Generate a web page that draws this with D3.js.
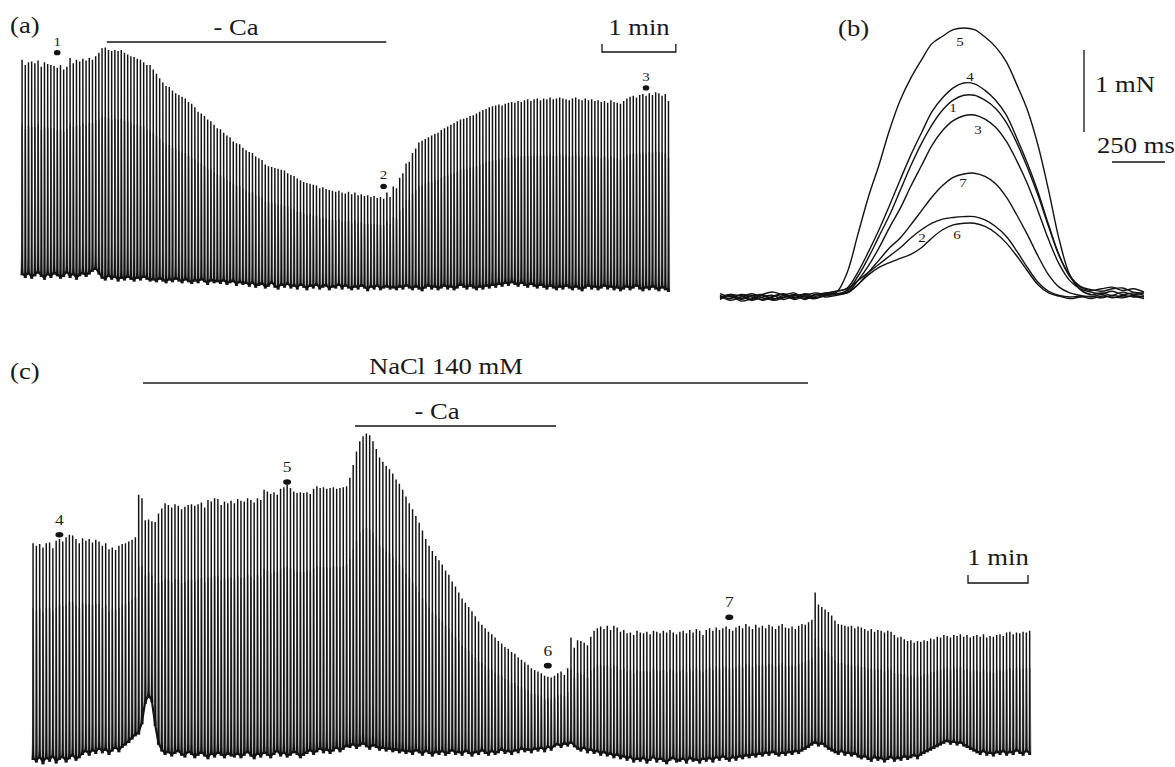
<!DOCTYPE html>
<html>
<head>
<meta charset="utf-8">
<title>Twitch force, Ca-free and NaCl 140 mM</title>
<script src="https://d3js.org/d3.v7.min.js"></script>
<style>
  html, body { margin: 0; padding: 0; background: #fff; }
  svg { display: block; }
  text { font-family: 'Liberation Serif', 'Times New Roman', serif; fill: #1a1a1a; }
</style>
</head>
<body>
<svg id="chart" width="1175" height="767"></svg>
<script>
// ---- panel (a): peak and resting force of each twitch, mN ----
var peaksA = [
  2.56, 2.50, 2.53, 2.54, 2.52, 2.55, 2.48, 2.53, 2.51, 2.50,
  2.49, 2.47, 2.50, 2.45, 2.48, 2.58, 2.52, 2.56, 2.54, 2.57,
  2.55, 2.58, 2.56, 2.60, 2.64, 2.69, 2.70, 2.67, 2.66, 2.67,
  2.66, 2.67, 2.64, 2.62, 2.60, 2.59, 2.57, 2.56, 2.53, 2.50,
  2.50, 2.45, 2.40, 2.35, 2.30, 2.26, 2.25, 2.21, 2.18, 2.16,
  2.14, 2.12, 2.08, 2.06, 2.02, 1.97, 1.95, 1.92, 1.88, 1.86,
  1.82, 1.78, 1.77, 1.73, 1.70, 1.68, 1.63, 1.61, 1.60, 1.56,
  1.53, 1.51, 1.50, 1.46, 1.44, 1.42, 1.37, 1.35, 1.34, 1.33,
  1.32, 1.31, 1.30, 1.27, 1.25, 1.24, 1.21, 1.19, 1.17, 1.16,
  1.15, 1.14, 1.13, 1.10, 1.11, 1.09, 1.08, 1.07, 1.06, 1.07,
  1.05, 1.04, 1.06, 1.03, 1.05, 1.02, 1.03, 1.01, 1.02, 1.00,
  1.01, 0.99, 1.00, 0.98, 1.05, 1.00, 1.12, 1.10, 1.22, 1.27,
  1.38, 1.40, 1.50, 1.55, 1.62, 1.64, 1.66, 1.68, 1.70, 1.72,
  1.73, 1.76, 1.78, 1.80, 1.82, 1.84, 1.86, 1.88, 1.89, 1.90,
  1.92, 1.93, 1.95, 1.97, 1.99, 2.00, 2.02, 2.03, 2.04, 2.05,
  2.04, 2.06, 2.07, 2.08, 2.07, 2.09, 2.08, 2.10, 2.11, 2.09,
  2.11, 2.12, 2.10, 2.12, 2.11, 2.13, 2.11, 2.12, 2.13, 2.12,
  2.11, 2.10, 2.12, 2.13, 2.11, 2.10, 2.12, 2.10, 2.11, 2.09,
  2.10, 2.08, 2.09, 2.07, 2.10, 2.08, 2.07, 2.06, 2.09, 2.12,
  2.14, 2.15, 2.13, 2.16, 2.17, 2.15, 2.18, 2.16, 2.19, 2.18,
  2.15, 2.17, 2.09
]
var troughsA = [
  0.11, 0.08, 0.12, 0.07, 0.10, 0.13, 0.09, 0.06, 0.11, 0.08,
  0.12, 0.10, 0.07, 0.09, 0.13, 0.08, 0.11, 0.06, 0.10, 0.12,
  0.09, 0.12, 0.15, 0.17, 0.12,
  0.07, 0.05, 0.09, 0.06, 0.08, 0.04, 0.07, 0.05, 0.08, 0.06,
  0.04, 0.07, 0.05, 0.08, 0.06, 0.04,
  0.05, 0.03, 0.06, 0.04, 0.02, 0.05, 0.03, 0.06, 0.04, 0.02,
  0.05, 0.03, 0.01, 0.04, 0.02, 0.05, 0.03, 0.00, 0.04, 0.02,
  0.03, 0.01, 0.04, 0.00, 0.02, 0.03, -0.01, 0.02, 0.00, 0.01,
  -0.02, 0.01, -0.03, -0.01, 0.00, -0.04, -0.02, 0.01, -0.03, -0.05,
  -0.01, -0.03, 0.00, -0.04, -0.02, -0.05, -0.01, -0.03, -0.06, -0.02,
  -0.04, -0.01, -0.05, -0.03, -0.02, -0.06, -0.03, -0.04, -0.01, -0.05,
  -0.02, -0.04, -0.06, -0.03, -0.05, -0.02, -0.04, -0.07, -0.03, -0.05,
  -0.02, -0.06, -0.04, -0.03, -0.05,
  -0.04, -0.06, -0.03, -0.05, -0.02, -0.04, -0.06, -0.03, -0.05, -0.07,
  -0.04, -0.02, -0.05, -0.03, -0.06, -0.04, -0.02, -0.05, -0.03, -0.06,
  -0.04, -0.01, -0.03, -0.05, -0.02, -0.04, -0.06, -0.03, -0.05, -0.02,
  -0.04, -0.01, -0.03, 0.00, -0.02, 0.01, -0.01, 0.02, 0.00, -0.02,
  0.01, -0.01, -0.03, 0.00, -0.02, -0.04, -0.01, -0.03, -0.05, -0.02,
  -0.04, -0.06, -0.03, -0.05, -0.02, -0.04, -0.06, -0.03, -0.05, -0.07,
  -0.04, -0.02, -0.05, -0.03, -0.06, -0.04, -0.02, -0.05, -0.03, -0.06,
  -0.04, -0.07, -0.05, -0.03, -0.06, -0.04, -0.02, -0.05, -0.07, -0.04,
  -0.06, -0.03, -0.05, -0.07, -0.04, -0.06, -0.08
]
var periodA = 2.6 // s between twitches
var solutionsA = [{ name: '- Ca', from: 69, to: 296 }] // s
var marksA = [
  { label: '1', beat: 11, level: 2.64 },
  { label: '2', beat: 113, level: 1.12 },
  { label: '3', beat: 195, level: 2.24 }
]

// ---- panel (c) ----
var peaksC = [
  2.55, 2.52, 2.54, 2.50, 2.55, 2.56, 2.49, 2.58, 2.60, 2.57,
  2.62, 2.65, 2.64, 2.60, 2.55, 2.61, 2.58, 2.60, 2.56, 2.59,
  2.57, 2.52, 2.55, 2.48, 2.50, 2.47, 2.52, 2.54, 2.55, 2.57,
  2.59, 2.62, 3.12, 3.08, 2.82, 2.83, 2.81, 2.80, 2.90, 2.96,
  3.02, 3.00, 2.97, 3.01, 2.99, 2.95, 2.98, 3.00, 3.01, 2.99,
  3.01, 3.03, 2.97, 3.06, 3.04, 3.08, 3.07, 3.00, 3.04, 3.02,
  3.05, 3.02, 3.07, 3.05, 3.04, 3.08, 3.06, 3.03, 3.08, 3.06,
  3.18, 3.16, 3.13, 3.15, 3.12, 3.19, 3.21, 3.24, 3.20, 3.16,
  3.14, 3.15, 3.14, 3.15, 3.13, 3.19, 3.22, 3.20, 3.21, 3.19,
  3.20, 3.21, 3.19, 3.20, 3.21, 3.22, 3.32, 3.47, 3.63, 3.75,
  3.81, 3.84, 3.82, 3.75, 3.66, 3.56, 3.51, 3.46, 3.42, 3.37,
  3.30, 3.25, 3.18, 3.10, 3.02, 2.95, 2.87, 2.79, 2.70, 2.60,
  2.52, 2.46, 2.40, 2.35, 2.30, 2.23, 2.18, 2.10, 2.04, 1.97,
  1.90, 1.85, 1.80, 1.75, 1.69, 1.63, 1.59, 1.55, 1.51, 1.48,
  1.44, 1.40, 1.37, 1.33, 1.31, 1.27, 1.25, 1.21, 1.18, 1.15,
  1.12, 1.08, 1.06, 1.04, 1.02, 0.99, 0.98, 0.97, 0.99, 1.02,
  1.04, 1.00, 1.08, 1.44, 1.32, 1.41, 1.40, 1.38, 1.35, 1.45,
  1.52, 1.55, 1.57, 1.54, 1.58, 1.53, 1.58, 1.56, 1.51, 1.53,
  1.49, 1.50, 1.47, 1.52, 1.50, 1.49, 1.51, 1.48, 1.52, 1.51,
  1.49, 1.52, 1.50, 1.53, 1.50, 1.48, 1.51, 1.52, 1.49, 1.53,
  1.50, 1.54, 1.52, 1.47, 1.53, 1.55, 1.52, 1.56, 1.53, 1.55,
  1.57, 1.54, 1.52, 1.56, 1.58, 1.55, 1.60, 1.57, 1.54, 1.59,
  1.56, 1.58, 1.55, 1.59, 1.57, 1.54, 1.58, 1.60, 1.56, 1.55,
  1.57, 1.54, 1.58, 1.60, 1.59, 1.62, 1.65, 1.97, 1.83, 1.80,
  1.77, 1.74, 1.70, 1.64, 1.60, 1.59, 1.58, 1.57, 1.58, 1.55,
  1.57, 1.56, 1.54, 1.52, 1.54, 1.51, 1.53, 1.52, 1.50, 1.52,
  1.51, 1.47, 1.44, 1.45, 1.42, 1.40, 1.41, 1.38, 1.40, 1.39,
  1.41, 1.40, 1.43, 1.42, 1.45, 1.44, 1.47, 1.46, 1.44, 1.47,
  1.46, 1.48, 1.45, 1.47, 1.44, 1.46, 1.47, 1.45, 1.48, 1.44,
  1.46, 1.45, 1.47, 1.48, 1.46, 1.50, 1.51, 1.48, 1.50, 1.49,
  1.51, 1.50, 1.52
]
var troughsC = [
  0.00, -0.03, 0.02, -0.05, 0.01, -0.02, 0.03, -0.04, 0.00, 0.02,
  -0.03, 0.01, 0.04, -0.01, 0.02,
  0.06, 0.09, 0.05, 0.10, 0.07, 0.12, 0.08, 0.11, 0.06, 0.10,
  0.13, 0.09, 0.14, 0.17, 0.20,
  0.24, 0.28, 0.30, 0.42, 0.66, 0.74, 0.68, 0.40, 0.18,
  0.10, 0.06, 0.08, 0.04, 0.07, 0.09, 0.05, 0.03, 0.08, 0.06,
  0.02, 0.05, 0.07, 0.04, 0.01, 0.06, 0.03, 0.07, 0.05, 0.02,
  0.06, 0.04,
  0.03, 0.06, 0.02, 0.05, 0.08, 0.04, 0.01, 0.06, 0.03, 0.07,
  0.05, 0.02, 0.06, 0.09, 0.04, 0.07, 0.03, 0.05, 0.08, 0.06,
  0.02, 0.05, 0.07, 0.10, 0.06, 0.09, 0.12, 0.08, 0.11, 0.07,
  0.10, 0.13, 0.09, 0.12, 0.15,
  0.14, 0.17, 0.13, 0.16, 0.18, 0.15, 0.12, 0.16, 0.14, 0.11,
  0.13, 0.10, 0.12, 0.09, 0.11, 0.08, 0.10,
  0.07, 0.09, 0.06, 0.10, 0.08, 0.05, 0.09, 0.07, 0.04, 0.08,
  0.06, 0.09, 0.05, 0.07, 0.10, 0.06, 0.08, 0.05, 0.09, 0.07,
  0.04, 0.08, 0.06, 0.10, 0.07, 0.05, 0.09, 0.06, 0.08, 0.11,
  0.07, 0.09, 0.06, 0.10, 0.08, 0.12, 0.09, 0.11,
  0.08, 0.12, 0.10, 0.13, 0.09, 0.14, 0.11, 0.15, 0.17, 0.14,
  0.18, 0.16, 0.19, 0.15, 0.12, 0.10, 0.13, 0.08, 0.11, 0.07,
  0.09, 0.05, 0.08, 0.04, 0.06, 0.02, 0.05, 0.01, 0.03, -0.01,
  0.02, -0.03, 0.00, -0.02, 0.01, -0.04, -0.01, 0.02, -0.03, 0.00,
  -0.02, -0.05, -0.01, 0.01, -0.03, -0.02, 0.00, -0.04, 0.01, -0.02,
  -0.01, -0.04, 0.00, -0.02, 0.01, -0.03, 0.02, -0.01, 0.03, 0.00,
  -0.02, 0.02, -0.01, 0.03, 0.01, 0.04, 0.02, 0.05, 0.03, 0.06,
  0.04, 0.07, 0.05, 0.08, 0.06, 0.04, 0.07, 0.05, 0.08, 0.06,
  0.09, 0.07, 0.10, 0.12, 0.14, 0.17, 0.19, 0.16, 0.18, 0.15,
  0.12, 0.10, 0.08, 0.06, 0.09, 0.05, 0.07, 0.04, 0.06, 0.03,
  0.01, 0.03, 0.00, -0.02, 0.02, -0.01, 0.01, -0.03, 0.00, 0.02,
  -0.02, 0.01, -0.01, 0.03, 0.00, 0.02, 0.04, 0.01, 0.05, 0.07,
  0.09, 0.11, 0.13, 0.15, 0.17, 0.19, 0.21, 0.18, 0.20, 0.17,
  0.19, 0.16, 0.14, 0.12, 0.10, 0.08, 0.06, 0.09, 0.05, 0.07,
  0.04, 0.08, 0.06, 0.09, 0.05, 0.08, 0.06, 0.10, 0.07, 0.05,
  0.09, 0.06
]
var periodC = 3.3
var solutionsC = [
  { name: 'NaCl 140 mM', from: 110, to: 775 },
  { name: '- Ca', from: 322, to: 523 }
]
var marksC = [
  { label: '4', beat: 8, level: 2.65 },
  { label: '5', beat: 77, level: 3.27 },
  { label: '6', beat: 156, level: 1.11 },
  { label: '7', beat: 211, level: 1.68 }
]

// ---- panel (b): single twitches, force (mN) every 50 ms ----
var timesB = [0, 50, 100, 150, 200, 250, 300, 350, 400, 450, 500, 550, 600, 650, 700, 750, 800, 850, 900, 950,
  1000, 1050, 1100, 1150, 1200, 1250, 1300, 1350, 1400, 1450, 1500, 1550, 1600, 1650, 1700, 1750, 1800, 1850, 1900, 1950, 2000]
var twitch5 = [0.02, -0.02, 0.03, 0.00, -0.03, 0.01, 0.04, -0.01, 0.02, 0.05, 0.03, 0.06,
  0.30, 0.76, 1.22, 1.61, 2.04, 2.40, 2.67, 2.89, 3.09, 3.18, 3.26, 3.28, 3.26, 3.17, 3.05, 2.87, 2.59, 2.28,
  1.85, 1.30, 0.70, 0.27, 0.09, 0.03, 0.05, 0.02, 0.06, 0.03, 0.05]
var twitch4 = [-0.03, 0.01, -0.05, -0.02, 0.02, -0.04, -0.01, 0.03, 0.00, -0.02, 0.04, 0.07,
  0.11, 0.30, 0.55, 0.82, 1.12, 1.43, 1.73, 2.00, 2.26, 2.43, 2.55, 2.61, 2.60, 2.52, 2.40, 2.22, 1.94, 1.63,
  1.28, 0.88, 0.51, 0.26, 0.13, 0.09, 0.07, 0.10, 0.11, 0.06, 0.05]
var twitch1 = [0.04, 0.00, 0.02, -0.03, 0.03, 0.06, 0.02, -0.02, 0.04, 0.01, 0.05, 0.04,
  0.08, 0.25, 0.48, 0.74, 1.00, 1.30, 1.60, 1.87, 2.10, 2.28, 2.40, 2.46, 2.46, 2.40, 2.30, 2.13, 1.88, 1.58,
  1.24, 0.86, 0.50, 0.25, 0.12, 0.08, 0.10, 0.12, 0.08, 0.10, 0.06]
var twitch3 = [-0.01, 0.03, -0.02, 0.02, -0.04, 0.00, 0.03, -0.03, 0.01, -0.01, 0.02, 0.03,
  0.06, 0.20, 0.38, 0.60, 0.85, 1.08, 1.35, 1.60, 1.85, 2.03, 2.15, 2.21, 2.22, 2.17, 2.07, 1.90, 1.66, 1.38,
  1.05, 0.70, 0.40, 0.20, 0.10, 0.06, 0.04, 0.07, 0.03, 0.05, 0.02]
var twitch7 = [0.01, -0.04, 0.00, 0.04, -0.01, -0.03, 0.02, 0.05, -0.02, 0.03, 0.00, 0.02,
  0.05, 0.15, 0.30, 0.45, 0.60, 0.72, 0.88, 1.05, 1.22, 1.36, 1.46, 1.50, 1.51, 1.47, 1.38, 1.22, 1.00, 0.76,
  0.50, 0.27, 0.12, 0.05, 0.02, 0.00, 0.03, -0.01, 0.02, 0.00, 0.01]
var twitch2 = [0.00, 0.02, -0.03, 0.01, 0.03, -0.02, 0.00, 0.02, -0.03, 0.03, 0.05, 0.07,
  0.10, 0.20, 0.30, 0.40, 0.50, 0.60, 0.72, 0.82, 0.90, 0.95, 0.97, 0.98, 0.98, 0.94, 0.86, 0.74, 0.56, 0.36,
  0.18, 0.07, 0.02, 0.00, 0.01, -0.02, 0.01, 0.00, -0.01, 0.02, 0.00]
var twitch6 = [-0.02, 0.03, 0.01, -0.04, 0.00, 0.02, -0.03, 0.01, 0.03, -0.01, 0.02, 0.04,
  0.05, 0.15, 0.27, 0.36, 0.42, 0.47, 0.52, 0.60, 0.72, 0.82, 0.88, 0.90, 0.90, 0.86, 0.78, 0.66, 0.50, 0.32,
  0.15, 0.05, 0.01, -0.02, 0.00, 0.01, -0.01, 0.02, 0.00, 0.01, -0.02]
var twitchesB = [
  { label: '5', force: twitch5, at: [1132, 3.11] },
  { label: '4', force: twitch4, at: [1179, 2.68] },
  { label: '1', force: twitch1, at: [1099, 2.30] },
  { label: '3', force: twitch3, at: [1217, 2.04] },
  { label: '7', force: twitch7, at: [1146, 1.39] },
  { label: '2', force: twitch2, at: [953, 0.72] },
  { label: '6', force: twitch6, at: [1118, 0.76] }
]

var ink = '#131313'
var svg = d3.select('#chart')
svg.append('rect').attr('width', 1175).attr('height', 767).attr('fill', '#fff')

// text in the figure is set a little wider than the font
function label (g, str, x, y, size, anchor) {
  return g.append('text')
    .attr('transform', 'translate(' + x + ',' + y + ') scale(1.16,1)')
    .attr('font-size', size)
    .attr('text-anchor', anchor || 'start')
    .text(str)
}

// one twitch: a dark spike, and a grey shadow of the slower fall
var spike = [[0, 1.3, 1.5], [0.04, 0.88, 1.05], [0.15, 0.74, 0.9], [1, 0.66, 0.8]]
var shadow = [[0, 1.6, 1.8], [0.08, 1.1, 1.7], [0.4, 0.75, 1.35], [0.7, 0.66, 0.95]]
function twitchPath (profile, x, y0, y1) {
  var p = d3.path()
  var k
  p.moveTo(x - profile[0][1], y0)
  for (k = 1; k < profile.length; k++) p.lineTo(x - profile[k][1], y0 + (y1 - y0) * profile[k][0])
  for (k = profile.length - 1; k >= 0; k--) p.lineTo(x + profile[k][2], y0 + (y1 - y0) * profile[k][0])
  p.closePath()
  return p.toString()
}

function drawTrace (g, peaks, troughs, period, xRange, y) {
  var x = d3.scaleLinear().domain([0, (peaks.length - 1) * period]).range(xRange)
  var rest = function (i) { return troughs[Math.min(i, troughs.length - 1)] }

  g.append('g').selectAll('path')
    .data(peaks)
    .enter()
    .append('path')
    .attr('d', function (d, i) { return twitchPath(shadow, x(i * period), y(rest(i)), y(d)) })
    .attr('fill', '#8a8a8a')

  g.append('path')
    .datum(peaks)
    .attr('fill', 'none')
    .attr('stroke', ink)
    .attr('stroke-width', 2.2)
    .attr('d', d3.line()
      .x(function (d, i) { return x(i * period) })
      .y(function (d, i) { return y(rest(i)) - 2 }))

  g.append('g').selectAll('path')
    .data(peaks)
    .enter()
    .append('path')
    .attr('d', function (d, i) { return twitchPath(spike, x(i * period), y(rest(i)), y(d)) })
    .attr('fill', ink)
  return x
}

function drawMarks (g, marks, x, y, period, rx, ry, size, gap) {
  marks.forEach(function (m) {
    var cx = x(m.beat * period)
    g.append('ellipse').attr('cx', cx).attr('cy', y(m.level)).attr('rx', rx).attr('ry', ry).attr('fill', ink)
    label(g, m.label, cx, y(m.level) - gap, size, 'middle')
  })
}

function bar (g, x1, x2, yy, color, width) {
  g.append('line').attr('x1', x1).attr('x2', x2).attr('y1', yy).attr('y2', yy)
    .attr('stroke', color).attr('stroke-width', width)
}

function minuteBar (g, x, left, yy, textY, size) {
  var w = x(60) - x(0)
  g.append('path')
    .attr('d', 'M' + left + ',' + (yy - 8) + 'V' + yy + 'H' + (left + w) + 'V' + (yy - 8))
    .attr('fill', 'none').attr('stroke', ink).attr('stroke-width', 1.3)
  label(g, '1 min', left + w / 2, textY, size, 'middle')
}

// ---- (a) ----
var gA = svg.append('g')
var yA = d3.scaleLinear().domain([0, 2.7]).range([285, 285 - 88 * 2.7])
var xA = drawTrace(gA, peaksA, troughsA, periodA, [22, 668.4], yA)
drawMarks(gA, marksA, xA, yA, periodA, 3.3, 2.6, 13, 7)
label(gA, '(a)', 10, 33, 23)
solutionsA.forEach(function (s) {
  bar(gA, xA(s.from), xA(s.to), 42, ink, 1.3)
  label(gA, s.name, 236, 35, 23, 'middle')
})
minuteBar(gA, xA, 602, 52, 35, 23)

// ---- (c) ----
var gC = svg.append('g')
var yC = d3.scaleLinear().domain([0, 3.9]).range([760, 760 - 85 * 3.9])
var xC = drawTrace(gC, peaksC, troughsC, periodC, [33, 1029.6], yC)
drawMarks(gC, marksC, xC, yC, periodC, 4, 2.8, 15, 10)
label(gC, '(c)', 10, 379, 23)
bar(gC, xC(solutionsC[0].from), xC(solutionsC[0].to), 383, '#555', 2)
label(gC, solutionsC[0].name, 446, 374, 23, 'middle')
bar(gC, xC(solutionsC[1].from), xC(solutionsC[1].to), 426, ink, 1.4)
label(gC, solutionsC[1].name, 437, 419, 23, 'middle')
minuteBar(gC, xC, 968, 583, 565, 23)

// ---- (b) ----
var gB = svg.append('g')
var xB = d3.scaleLinear().domain([0, 2000]).range([720, 1144])
var yB = d3.scaleLinear().domain([0, 1]).range([297, 215])
var lineB = d3.line()
  .x(function (d, i) { return xB(timesB[i]) })
  .y(function (d) { return yB(d) })
  .curve(d3.curveCatmullRom)

gB.selectAll('path.twitch')
  .data(twitchesB)
  .enter()
  .append('path')
  .attr('class', 'twitch')
  .attr('d', function (d) { return lineB(d.force) })
  .attr('fill', 'none')
  .attr('stroke', ink)
  .attr('stroke-width', 1.4)

twitchesB.forEach(function (d) {
  label(gB, d.label, xB(d.at[0]), yB(d.at[1]) + 4, 13, 'middle')
})

label(gB, '(b)', 838, 36, 23)
var mN = yB(0) - yB(1)
gB.append('line').attr('x1', 1084).attr('x2', 1084).attr('y1', 132).attr('y2', 132 - mN)
  .attr('stroke', ink).attr('stroke-width', 1.3)
label(gB, '1 mN', 1095, 92, 23)
bar(gB, 1112, 1112 + xB(250) - xB(0), 162, ink, 1.3)
label(gB, '250 ms', 1097, 153, 23)
</script>
</body>
</html>
